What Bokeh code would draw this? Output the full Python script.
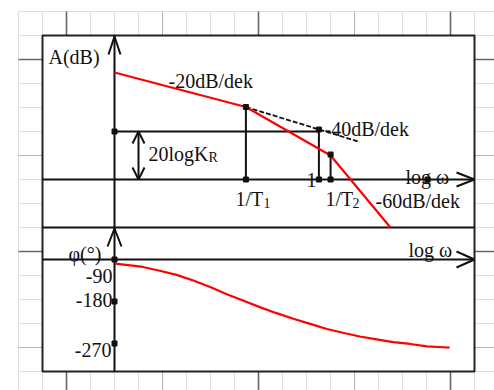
from bokeh.plotting import figure
from bokeh.models import Range1d, Arrow, OpenHead
from bokeh.core.properties import value
from bokeh.embed import file_html
from bokeh.resources import INLINE

# ---------------------------------------------------------------- data
# log-magnitude asymptotes: x = log10(omega), y = dB
amp_logw = [-2.8, -1.0, 0.16, 0.98]
amp_db = [107.0, 72.5, 24.0, -48.0]

# -20 dB/dek asymptote continued past 1/T1 (dashed)
ext_logw = [-1.0, 0.56]
ext_db = [72.5, 37.5]

gain_db = 48.0                     # 20 log K_R
corner_logw = [-1.0, 0.0, 0.16]    # 1/T1, omega = 1, 1/T2
corner_db = [72.5, 50.0, 25.0]
axis_mark_logw = 1.49              # small mark on the log(omega) axis

# phase response: x = log10(omega), y = degrees
phase_logw = [-2.79, -2.41, -2.18, -1.95, -1.72, -1.49, -1.27, -1.04, -0.81,
              -0.58, -0.35, -0.12, 0.11, 0.33, 0.56, 0.79, 1.02, 1.25, 1.48,
              1.70, 1.79]
phase_deg = [-99, -106, -114, -123, -135, -149, -164, -178, -192, -205, -217,
             -228, -239, -247, -255, -261, -267, -271, -276, -278, -279]

phase_ticks = [-90, -180, -270]
phase_tick_labels = ["-90", "-180", "-270"]

# ---------------------------------------------------------------- layout (page pixels)
W, H = 494, 390
BOX_L, BOX_T, BOX_R, BOX_B = 42, 35, 474, 371
SPLIT_Y = 227
AXIS_X = 114          # vertical axis, at log10(omega) = amp_logw[0]
AMP_AXIS_Y = 179      # 0 dB line
PH_AXIS_Y = 259       # -90 deg line
PX_PER_DEC = 73.0
PX_PER_DB = 1.0
PX_PER_DEG = 42.0 / 90.0

FONT = value("Liberation Serif")
BIG = value("20px")
SMALL = value("14px")
INK = "#111111"
RED = "#ff0000"

p = figure(width=W, height=H, output_backend="svg", toolbar_location=None,
           x_range=Range1d(0, W), y_range=Range1d(H, 0),
           x_axis_location=None, y_axis_location=None, min_border=0,
           outline_line_color=None, background_fill_color="white",
           border_fill_color="white")
p.grid.visible = False

lw0 = amp_logw[0]
p.extra_x_ranges = {"w": Range1d(lw0 - AXIS_X / PX_PER_DEC,
                                 lw0 + (W - AXIS_X) / PX_PER_DEC)}
p.extra_y_ranges = {
    "amp": Range1d(-(H - AMP_AXIS_Y) / PX_PER_DB, AMP_AXIS_Y / PX_PER_DB),
    "ph": Range1d(-90 - (H - PH_AXIS_Y) / PX_PER_DEG, -90 + PH_AXIS_Y / PX_PER_DEG),
}

# ---------------------------------------------------------------- graph paper
vx = list(range(18, W + 24, 24))
hy = list(range(11, H + 24, 24))
p.segment(x0=vx, y0=11, x1=vx, y1=H, line_color="#dedede", line_width=1)
p.segment(x0=18, y0=hy, x1=W, y1=hy, line_color="#dedede", line_width=1)
mid_x, mid_y = [162, 354], [155, 347]
p.segment(x0=mid_x, y0=11, x1=mid_x, y1=H, line_color="#b4b4b4", line_width=1)
p.segment(x0=18, y0=mid_y, x1=W, y1=mid_y, line_color="#b4b4b4", line_width=1)
maj_x, maj_y = [66, 258, 450], [59, 251]
p.segment(x0=maj_x, y0=11, x1=maj_x, y1=H, line_color="#666666", line_width=1.6)
p.segment(x0=18, y0=maj_y, x1=W, y1=maj_y, line_color="#666666", line_width=1.6)

# white drawing area with frame
p.quad(left=BOX_L, right=BOX_R, top=BOX_T, bottom=BOX_B, fill_color="white",
       line_color="#222222", line_width=2)
p.segment(x0=BOX_L, y0=SPLIT_Y, x1=BOX_R, y1=SPLIT_Y, line_color=INK, line_width=2)

# ---------------------------------------------------------------- axes
p.segment(x0=AXIS_X, y0=BOX_T, x1=AXIS_X, y1=BOX_B, line_color=INK, line_width=2)
p.segment(x0=BOX_L, y0=0, x1=BOX_R, y1=0, y_range_name="amp", line_color=INK, line_width=2)
p.segment(x0=BOX_L, y0=-90, x1=BOX_R, y1=-90, y_range_name="ph", line_color=INK, line_width=2)


def head(tx, ty, dx, dy, length=18, half=6):
    """Open arrow head with its tip at (tx, ty), pointing along (dx, dy)."""
    bx, by = tx - dx * length, ty - dy * length
    nx, ny = -dy * half, dx * half
    return [bx + nx, tx, bx - nx], [by + ny, ty, by - ny]


heads = [head(AXIS_X, BOX_T + 1, 0, -1), head(AXIS_X, SPLIT_Y + 1, 0, -1, half=7),
         head(BOX_R, AMP_AXIS_Y, 1, 0, half=7), head(BOX_R, PH_AXIS_Y, 1, 0, half=8)]
p.multi_line(xs=[h[0] for h in heads], ys=[h[1] for h in heads],
             line_color=INK, line_width=2)

# ---------------------------------------------------------------- magnitude plot
p.segment(x0=amp_logw[0], y0=gain_db, x1=corner_logw[1], y1=gain_db,
          x_range_name="w", y_range_name="amp", line_color=INK, line_width=2)
p.segment(x0=corner_logw, y0=0, x1=corner_logw, y1=corner_db,
          x_range_name="w", y_range_name="amp", line_color=INK, line_width=2)
p.line(ext_logw, ext_db, x_range_name="w", y_range_name="amp",
       line_color=INK, line_width=1.8, line_dash="5 2")
p.line(amp_logw, amp_db, x_range_name="w", y_range_name="amp",
       line_color=RED, line_width=2.2)

p.add_layout(Arrow(start=OpenHead(size=12, line_width=2, line_color=INK),
                   end=OpenHead(size=12, line_width=2, line_color=INK),
                   x_start=amp_logw[0] + 24 / PX_PER_DEC, y_start=gain_db,
                   x_end=amp_logw[0] + 24 / PX_PER_DEC, y_end=0,
                   x_range_name="w", y_range_name="amp",
                   line_color=INK, line_width=2))

dot_x = [amp_logw[0]] + corner_logw + corner_logw + [axis_mark_logw]
dot_y = [gain_db] + corner_db + [0, 0, 0] + [0]
p.scatter(dot_x, dot_y, x_range_name="w", y_range_name="amp", marker="square",
          size=5, fill_color=INK, line_color=INK)

# ---------------------------------------------------------------- phase plot
p.line(phase_logw, phase_deg, x_range_name="w", y_range_name="ph",
       line_color=RED, line_width=2.2)
p.scatter([amp_logw[0]] * len(phase_ticks), phase_ticks, x_range_name="w",
          y_range_name="ph", marker="square", size=5, fill_color=INK, line_color=INK)

# ---------------------------------------------------------------- texts
big = dict(
    x=[48, 168, 148, 324, 306, 235, 325, 375, 405, 408, 68],
    y=[56, 80, 153, 128, 179, 198, 198, 200, 176, 249, 253],
    t=["A(dB)", "-20dB/dek", "20logK", "-40dB/dek", "1", "1/T", "1/T",
       "-60dB/dek", "log ω", "log ω", "φ(°)"],
)
p.text(x=big["x"], y=big["y"], text=big["t"], text_font=FONT, text_font_size=BIG,
       text_color=INK, text_baseline="alphabetic", text_align="left")

p.text(x=[208, 263, 352], y=[157, 202, 202], text=["R", "1", "2"], text_font=FONT,
       text_font_size=SMALL, text_color=INK, text_baseline="alphabetic",
       text_align="left")

p.text(x=[112, 112, 111], y=[275, 299, 349], text=phase_tick_labels, text_font=FONT,
       text_font_size=BIG, text_color=INK, text_baseline="alphabetic",
       text_align="right")

open("out.html", "w").write(file_html(p, INLINE))
